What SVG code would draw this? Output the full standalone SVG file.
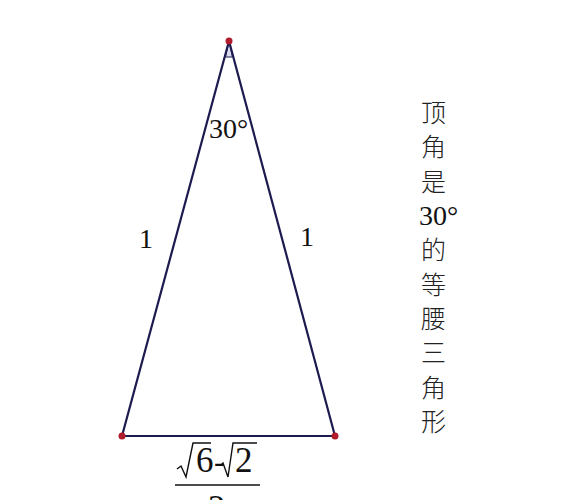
<svg xmlns="http://www.w3.org/2000/svg" width="570" height="500" viewBox="0 0 570 500">
<style>
.edge{stroke:#1c1a4e;stroke-width:2.2;fill:none}
.pt{fill:#b01c2c}
.lbl{font-family:"Liberation Serif",serif;fill:#111}
.rad{stroke:#111;stroke-width:1.4;fill:none;stroke-linejoin:miter}
.cjk{font-family:"Noto Sans CJK SC",sans-serif;font-size:25px;font-weight:300;fill:#222}
</style>
<rect width="570" height="500" fill="#fff"/>
<g id="connectors">
<polygon points="229,41 225.5,57 232.5,57" fill="#dcdcf0" stroke="#1c1a4e" stroke-width="1"/>
<line class="edge" x1="229" y1="41" x2="122" y2="436"/>
<line class="edge" x1="229" y1="41" x2="335" y2="436"/>
<line class="edge" x1="122" y1="436" x2="335" y2="436"/>
</g>
<g id="A"><circle class="pt" cx="229" cy="41" r="3.5"/></g>
<g id="B"><circle class="pt" cx="122" cy="436" r="3.5"/></g>
<g id="C"><circle class="pt" cx="335" cy="436" r="3.5"/></g>
<g id="angle-label"><text class="lbl" x="209" y="138" font-size="28">30°</text></g>
<g id="side-left"><text class="lbl" x="139" y="248" font-size="28">1</text></g>
<g id="side-right"><text class="lbl" x="300" y="246" font-size="28">1</text></g>
<g id="base-label">
<path class="rad" d="M177,469 L181,466 L186,477 L193,443 L211,443"/>
<text class="lbl" x="196" y="472" font-size="35">6</text>
<text class="lbl" x="214" y="472" font-size="32">-</text>
<path class="rad" d="M221,465 L223,463 L228,477 L233,443 L257,443"/>
<text class="lbl" x="235" y="472" font-size="35">2</text>
<line x1="175" y1="485" x2="260" y2="485" stroke="#111" stroke-width="1.6"/>
<text class="lbl" x="208" y="520" font-size="35">2</text>
</g>
<g id="caption">
<text class="cjk" x="421" y="122">顶</text>
<text class="cjk" x="421" y="156">角</text>
<text class="cjk" x="421" y="191">是</text>
<text class="lbl" x="419" y="225" font-size="28">30°</text>
<text class="cjk" x="421" y="259">的</text>
<text class="cjk" x="421" y="294">等</text>
<text class="cjk" x="421" y="328">腰</text>
<text class="cjk" x="421" y="362">三</text>
<text class="cjk" x="421" y="397">角</text>
<text class="cjk" x="421" y="431">形</text>
</g>
</svg>
